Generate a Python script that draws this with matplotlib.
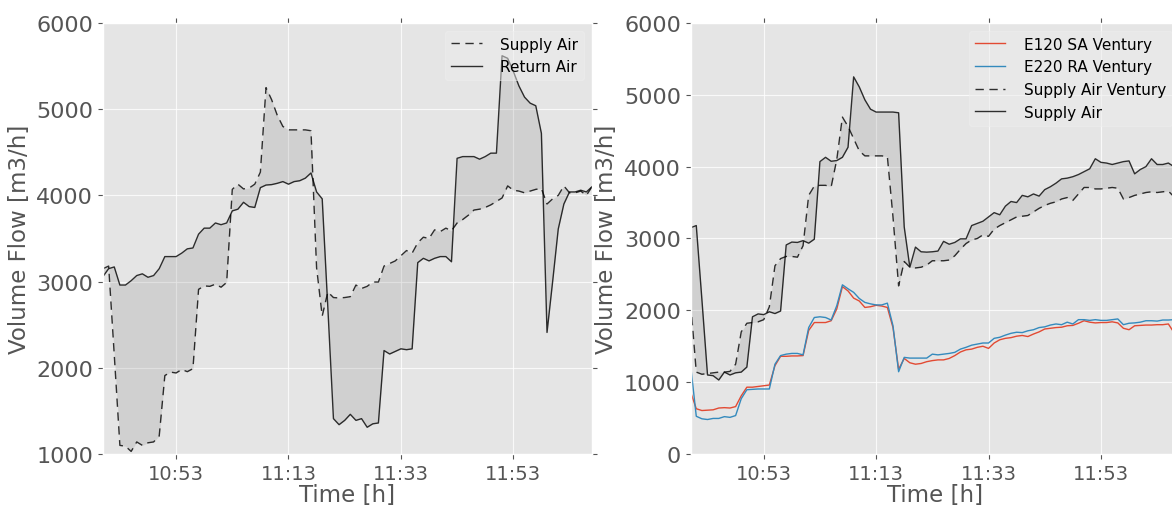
import numpy as np
import pandas as pd
import matplotlib
matplotlib.use("Agg")
import matplotlib.pyplot as plt
import matplotlib.dates as mdates

plt.style.use('ggplot')

# one sample per minute, 10:40 .. 12:07
time = pd.date_range('2016-01-01 10:40', periods=88, freq='min')

supply_air = [3150, 3180, 2150, 1100, 1090, 1030, 1140, 1100, 1130, 1140,
              1210, 1910, 1950, 1940, 1980, 1955, 1990, 2910, 2950, 2945,
              2970, 2935, 2990, 4070, 4130, 4075, 4085, 4130, 4270, 5250,
              5110, 4930, 4800, 4760, 4760, 4760, 4760, 4750, 3160, 2600,
              2880, 2815, 2810, 2815, 2825, 2960, 2920, 2945, 2995, 2995,
              3180, 3210, 3240, 3300, 3360, 3330, 3450, 3515, 3500, 3600,
              3580, 3620, 3590, 3680, 3720, 3770, 3830, 3840, 3860, 3890,
              3930, 3970, 4110, 4060, 4050, 4030, 4050, 4070, 4080, 3900,
              3960, 4000, 4110, 4030, 4030, 4050, 4000, 4100]

return_air = [3060, 3150, 3170, 2960, 2960, 3010, 3070, 3090, 3050, 3070,
              3150, 3290, 3290, 3290, 3330, 3380, 3390, 3550, 3620, 3620,
              3680, 3660, 3680, 3820, 3840, 3920, 3870, 3860, 4090, 4120,
              4125, 4140, 4160, 4130, 4160, 4170, 4200, 4260, 4040, 3960,
              2700, 1410, 1340, 1390, 1460, 1390, 1410, 1310, 1350, 1360,
              2200, 2160, 2190, 2220, 2210, 2220, 3220, 3270, 3240, 3270,
              3290, 3290, 3230, 4430, 4450, 4450, 4450, 4420, 4450, 4490,
              4490, 5620, 5590, 5440, 5270, 5140, 5070, 5040, 4720, 2410,
              3000, 3610, 3900, 4040, 4040, 4060, 4040, 4100]

supply_ventury = [2100, 1140, 1110, 1120, 1130, 1140, 1140, 1150, 1250, 1700,
                  1820, 1830, 1840, 1870, 2050, 2620, 2720, 2750, 2750, 2740,
                  2900, 3600, 3730, 3740, 3740, 3720, 4100, 4690, 4560, 4390,
                  4220, 4150, 4150, 4150, 4150, 4140, 3300, 2340, 2680, 2600,
                  2590, 2600, 2630, 2690, 2690, 2690, 2700, 2760, 2850, 2930,
                  2980, 3000, 3050, 3030, 3130, 3180, 3220, 3260, 3300, 3310,
                  3320, 3370, 3420, 3460, 3490, 3510, 3550, 3570, 3530, 3620,
                  3710, 3710, 3690, 3690, 3700, 3710, 3700, 3550, 3570, 3600,
                  3620, 3640, 3650, 3640, 3650, 3660, 3580, 3600]

e120_sa = [860, 630, 605, 610, 615, 640, 645, 640, 660, 810,
           930, 930, 940, 950, 960, 1230, 1360, 1360, 1365, 1365,
           1370, 1720, 1830, 1830, 1830, 1855, 2020, 2330, 2270, 2170,
           2130, 2040, 2050, 2070, 2060, 2040, 1760, 1180, 1330, 1270,
           1250, 1260, 1285, 1300, 1310, 1310, 1330, 1370, 1420, 1450,
           1460, 1485, 1500, 1470, 1545, 1590, 1610, 1620, 1640, 1650,
           1635, 1670, 1700, 1740, 1750, 1760, 1765, 1785, 1790, 1820,
           1855, 1835, 1825, 1830, 1830, 1840, 1825, 1750, 1730, 1785,
           1790, 1795, 1795, 1800, 1800, 1810, 1690, 1700]

e220_ra = [1230, 525, 490, 480, 495, 495, 520, 510, 535, 770,
           895, 900, 905, 905, 905, 1250, 1370, 1390, 1400, 1400,
           1380, 1760, 1900, 1910, 1900, 1865, 2065, 2355, 2300, 2250,
           2165, 2110, 2090, 2075, 2075, 2100, 1785, 1145, 1345, 1335,
           1335, 1335, 1335, 1390, 1380, 1390, 1400, 1415, 1460, 1485,
           1515, 1530, 1545, 1545, 1610, 1625, 1655, 1680, 1695, 1690,
           1715, 1730, 1760, 1770, 1795, 1810, 1800, 1835, 1810, 1870,
           1870, 1860, 1870, 1860, 1860, 1870, 1880, 1800, 1820, 1825,
           1835, 1855, 1855, 1850, 1865, 1865, 1870, 1875]

DASH = (0, (6, 4))


def style_axis(ax, ymin, ymax):
    ax.set_xlim(time[0], time[-1])
    ax.set_ylim(ymin, ymax)
    ax.xaxis.set_major_locator(mdates.MinuteLocator(byminute=[13, 33, 53]))
    ax.xaxis.set_major_formatter(mdates.DateFormatter('%H:%M'))
    ax.tick_params(axis='x', labelsize=14, top=True, direction='out')
    ax.tick_params(axis='y', labelsize=16, right=True, direction='out')
    ax.grid(True, color='white', lw=0.8, alpha=0.8)
    ax.set_xlabel('Time [h]', fontsize=16.5, labelpad=0)
    ax.set_ylabel('Volume Flow [m3/h]', fontsize=16.5)


def add_legend(ax):
    leg = ax.legend(loc='upper right', fontsize=11, handletextpad=1.2,
                    framealpha=0.5, facecolor='#EBEBEB', edgecolor='#EFEFEF')
    leg.get_frame().set_linewidth(0.8)


fig = plt.figure(figsize=(11.72, 5.06), dpi=100)
ax1 = fig.add_axes([0.0879, 0.1008, 0.4172, 0.8518])
ax2 = fig.add_axes([0.5893, 0.1008, 0.4172, 0.8518])

ax1.plot(time, supply_air, color='k', ls=DASH, lw=1, alpha=0.8, label='Supply Air')
ax1.plot(time, return_air, color='k', ls='-', lw=1, alpha=0.8, label='Return Air')
ax1.fill_between(time, supply_air, return_air, color='grey', alpha=0.2, lw=0)
style_axis(ax1, 1000, 6000)
add_legend(ax1)

ax2.plot(time, e120_sa, color='#E24A33', lw=1, label='E120 SA Ventury')
ax2.plot(time, e220_ra, color='#348ABD', lw=1, label='E220 RA Ventury')
ax2.plot(time, supply_ventury, color='k', ls=DASH, lw=1, alpha=0.8,
         label='Supply Air Ventury')
ax2.plot(time, supply_air, color='k', ls='-', lw=1, alpha=0.8, label='Supply Air')
ax2.fill_between(time, supply_ventury, supply_air, color='grey', alpha=0.2, lw=0)
style_axis(ax2, 0, 6000)
add_legend(ax2)

fig.savefig('out.png', dpi=100)
